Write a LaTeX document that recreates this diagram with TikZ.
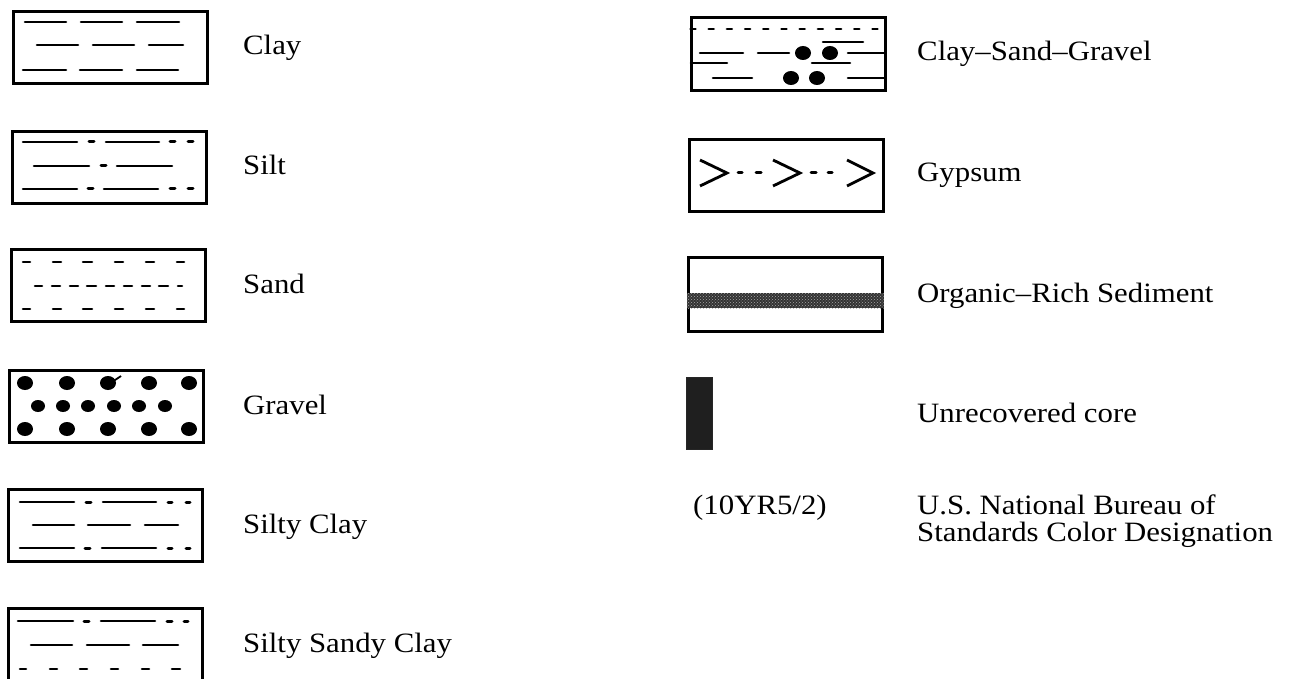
\documentclass[tikz,border=0pt]{standalone}
\usepackage{fontspec}
\setmainfont{Liberation Serif}[FakeStretch=1.1]
\usetikzlibrary{patterns}
\begin{document}
\begin{tikzpicture}[x=1pt,y=-1pt,
  swatch/.style={draw, line width=2.6pt, inner sep=0pt, minimum width=194pt, minimum height=72pt, anchor=north west},
  lbl/.style={anchor=base west, font=\fontsize{28}{24}\selectfont, inner sep=0pt},
  pat/.style={line width=2.6pt, line cap=round},
  dotm/.style={line width=3pt, line cap=round},
  blob/.style={fill=black}]
\useasboundingbox (0,0) rectangle (1303,679);

% ---- Clay
\node[swatch] (clay) at (12,10) {};
\draw[pat] (25,22)--(66,22) (81,22)--(122,22) (137,22)--(179,22)
           (37,45)--(78,45) (93,45)--(134,45) (149,45)--(183,45)
           (23,70)--(66,70) (80,70)--(122,70) (137,70)--(178,70);
\node[lbl] (clayl) at (243,55) {Clay};

% ---- Silt
\node[swatch] (silt) at (11,130) {};
\draw[pat] (23,142)--(77,142) (106,142)--(159,142)
           (34,166)--(89,166) (117,166)--(172,166)
           (23,189)--(77,189) (104,189)--(158,189);
\draw[dotm] (89,142)--(94,142) (170,142)--(175,142) (188,142)--(193,142)
            (101,166)--(106,166)
            (88,189)--(93,189) (170,189)--(175,189) (188,189)--(193,189);
\node[lbl] (siltl) at (243,175) {Silt};

% ---- Sand
\node[swatch] (sand) at (10,248) {};
\foreach \a/\b in {23/30,53/61,83/92,115/123,146/154,177/184}{
  \draw[pat] (\a,262)--(\b,262) (\a,309)--(\b,309);}
\foreach \a/\b in {35/42,52/60,70/78,87/96,106/114,124/132,142/150,159/168,178/182}{
  \draw[pat] (\a,286)--(\b,286);}
\node[lbl] (sandl) at (243,293) {Sand};

% ---- Gravel
\node[swatch] (gravel) at (8,369) {};
\foreach \c in {25,67,108,149,189}{
  \fill[blob] (\c,383) ellipse [x radius=8, y radius=7];
  \fill[blob] (\c,429) ellipse [x radius=8, y radius=7];}
\foreach \c in {38,63,88,114,139,165}{
  \fill[blob] (\c,406) ellipse [x radius=7, y radius=6];}
\draw[line width=1.8pt] (112,382)--(121,376);
\node[lbl] (gravell) at (243,414) {Gravel};

% ---- Silty Clay
\node[swatch] (siltyclay) at (7,488) {};
\draw[pat] (20,502)--(74,502) (103,502)--(156,502)
           (33,525)--(74,525) (88,525)--(130,525) (145,525)--(178,525)
           (20,548)--(74,548) (102,548)--(156,548);
\draw[dotm] (86,502)--(91,502) (168,502)--(172,502) (186,502)--(190,502)
            (85,548)--(90,548) (168,548)--(172,548) (186,548)--(190,548);
\node[lbl] (siltyclayl) at (243,533) {Silty Clay};

% ---- Silty Sandy Clay
\node[swatch] (ssc) at (7,607) {};
\draw[pat] (18,621)--(73,621) (101,621)--(155,621)
           (31,645)--(72,645) (87,645)--(129,645) (143,645)--(178,645);
\draw[dotm] (84,621)--(89,621) (167,621)--(172,621) (184,621)--(188,621);
\foreach \a/\b in {20/26,50/57,80/87,111/118,142/149,172/180}{
  \draw[pat] (\a,669)--(\b,669);}
\node[lbl] (sscl) at (243,652) {Silty Sandy Clay};

% ---- Clay-Sand-Gravel
\node[swatch, minimum height=73pt] (csg) at (690,16) {};
\foreach \i in {0,...,10}{\draw[pat] (690.5+18.2*\i,29)--+(5,0);}
\draw[pat] (823,42)--(863,42)
           (700,53)--(743,53) (758,53)--(789,53) (848,53)--(884,53)
           (691,63)--(727,63) (812,63)--(850,63)
           (713,78)--(752,78) (848,78)--(884,78);
\foreach \p in {(803,53),(830,53),(791,78),(817,78)}{
  \fill[blob] \p ellipse [x radius=8, y radius=7];}
\node[lbl] (csgl) at (917,61) {Clay--Sand--Gravel};

% ---- Gypsum
\node[swatch] (gyp) at (688,138) {};
\draw[line width=2.8pt] (700,160)--(727,173)--(700,186)
                        (773,160)--(800,173)--(773,186)
                        (847,160)--(873,173)--(847,186);
\draw[dotm] (738,173)--(742,173) (756,173)--(761,173)
            (811,173)--(816,173) (828,173)--(832,173);
\node[lbl] (gypl) at (917,182) {Gypsum};

% ---- Organic-Rich Sediment
\node[swatch, minimum height=74pt] (org) at (687,256) {};
\fill[black!80] (org.west |- 0,293) rectangle (org.east |- 0,308);
\fill[pattern=crosshatch dots, pattern color=black!35] (org.west |- 0,293) rectangle (org.east |- 0,308);
\node[lbl] (orgl) at (917,302) {Organic--Rich Sediment};

% ---- Unrecovered core
\node[draw=black!85, fill=black!88, line width=1pt, inner sep=0pt, minimum width=26pt, minimum height=72pt, anchor=north west] (core) at (686,377) {};
\node[lbl] (corel) at (917,422) {Unrecovered core};

% ---- Color designation
\node[lbl] (munsell) at (693,514) {(10YR5/2)};
\node[lbl] (nbs1) at (917,514) {U.S. National Bureau of};
\node[lbl] (nbs2) at (917,541) {Standards Color Designation};
\end{tikzpicture}
\end{document}
